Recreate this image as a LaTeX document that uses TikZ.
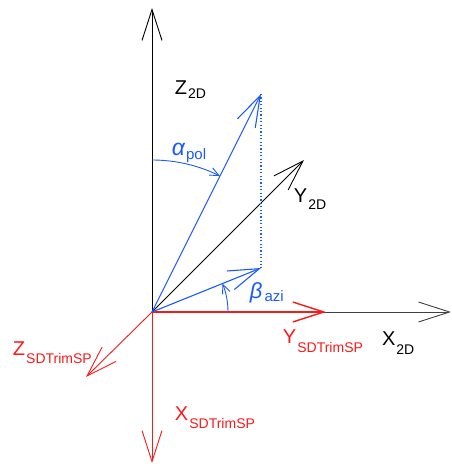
\documentclass[tikz,border=0pt]{standalone}
\usepackage{fontspec}
\setmainfont{Liberation Sans}
\usetikzlibrary{arrows.meta}
\definecolor{vecblue}{RGB}{25,90,255}
\definecolor{axred}{RGB}{250,25,25}
\newcommand{\mainlab}[3]{{\fontsize{20}{20}\selectfont #1}\kern1pt\raisebox{-#3pt}{\fontsize{14}{14}\selectfont #2}}
\begin{document}
\begin{tikzpicture}[x=1pt,y=1pt,
  barb/.style={-{Straight Barb[length=31pt,width=20pt]}},
  smallbarb/.style={-{Straight Barb[length=9pt,width=8pt]}},
  lab/.style={anchor=base west,inner sep=0pt,outer sep=0pt}]
\useasboundingbox (-152,-152) rectangle (300,312);
% coordinates
\coordinate (O) at (0,0);
\coordinate (Ztop) at (0,304);
\coordinate (Xend) at (299,0);
\coordinate (Y2D) at (152,152);
\coordinate (V) at (109,218);
\coordinate (P) at (109,44);
\coordinate (Yred) at (174,0);
\coordinate (Zred) at (-66,-65);
\coordinate (Xred) at (0,-151);
% black 2D axes
\draw[black,line width=0.9pt,barb] (O) -- (Ztop);
\draw[black!75,line width=0.9pt,barb] (O) -- (Xend);
\draw[black,line width=0.9pt,barb] (O) -- (Y2D);
% red SDTrimSP axes
\draw[axred,line width=1.4pt,barb] (O) -- (Yred);
\draw[axred,line width=0.9pt,barb] (O) -- (Zred);
\draw[axred,line width=0.9pt,barb] (O) -- (Xred);
% blue vector and projection
\draw[vecblue,line width=1.1pt,barb] (O) -- (V);
\draw[vecblue,line width=1.1pt,barb] (O) -- (P);
\draw[vecblue,line width=1.2pt,dash pattern=on 1.2pt off 2.2pt] (V) -- (P);
% angle arcs
\draw[vecblue,line width=0.9pt,smallbarb] (0,152) arc[start angle=90,end angle=63.43,radius=152];
\draw[vecblue,line width=0.9pt,smallbarb] (76,0) arc[start angle=0,end angle=21.98,radius=76];
% labels
\node[lab] (lz2d) at (23,217) {\mainlab{Z}{2D}{4}};
\node[lab] (ly2d) at (142,109) {\mainlab{Y}{2D}{7}};
\node[lab] (lx2d) at (230,-33) {\mainlab{X}{2D}{9}};
\node[lab,text=axred] (lysd) at (131,-31) {\mainlab{Y}{SDTrimSP}{9}};
\node[lab,text=axred] (lzsd) at (-139,-43) {\mainlab{Z}{SDTrimSP}{8}};
\node[lab,text=axred] (lxsd) at (23,-108) {\mainlab{X}{SDTrimSP}{8}};
\node[lab,text=vecblue] (lalpha) at (20,156) {{\fontsize{23}{23}\selectfont\itshape α}\kern1pt\raisebox{-4pt}{\fontsize{15}{15}\selectfont pol}};
\node[lab,text=vecblue] (lbeta) at (98,13) {{\fontsize{22}{22}\selectfont\itshape β}\kern2pt\raisebox{-3pt}{\fontsize{15}{15}\selectfont azi}};
\end{tikzpicture}
\end{document}
